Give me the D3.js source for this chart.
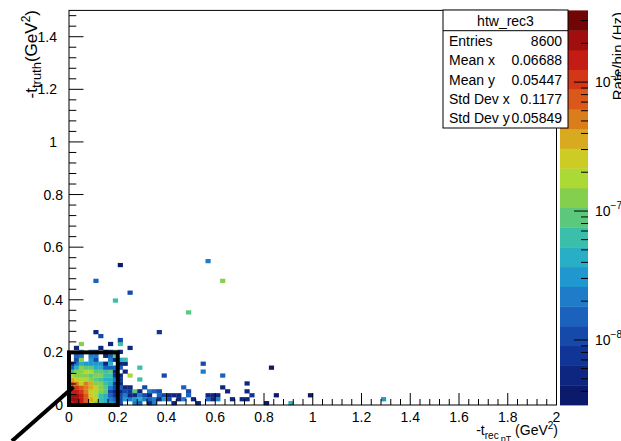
<!DOCTYPE html>
<html>
<head>
<meta charset="utf-8">
<script src="https://cdn.jsdelivr.net/npm/d3@7"></script>
<style>
  body { margin: 0; background: #fff; overflow: hidden; }
  svg { display: block; font-family: "Liberation Sans", Arial, sans-serif; }
</style>
</head>
<body>
<script>
// bin contents in nHz (1e-9 Hz); x bins are 0.02 GeV^2 wide, y bins 0.015 GeV^2
// core region: row = y bin index (from 0), column = x bin index (from 0), 0 = empty
var coreRates = [
  [1450, 2100, 1450, 720, 250, 120, 61, 43, 30, 21, 10.5, 0, 0],
  [2100, 2100, 1450, 720, 350, 250, 61, 43, 21, 15, 10.5, 30, 21],
  [2100, 2100, 1450, 720, 250, 175, 61, 43, 15, 7.3, 10.5, 21, 5.1],
  [1450, 1450, 1000, 500, 250, 175, 120, 87, 10.5, 5.1, 5.1, 10.5, 7.3],
  [1000, 1000, 720, 500, 350, 250, 120, 87, 21, 10.5, 15, 5.1, 5.1],
  [720, 500, 250, 500, 350, 120, 120, 61, 43, 7.3, 5.1, 0, 0],
  [350, 250, 175, 175, 120, 87, 61, 43, 43, 21, 7.3, 0, 0],
  [175, 120, 120, 120, 87, 120, 120, 61, 61, 7.3, 5.1, 0, 175],
  [61, 120, 120, 175, 175, 87, 87, 61, 87, 5.1, 0, 5.1, 0],
  [15, 43, 120, 87, 87, 43, 43, 15, 15, 15, 15, 0, 0],
  [5.1, 21, 43, 30, 30, 30, 30, 5.1, 43, 0, 5.1, 5.1, 0],
  [0, 10.5, 120, 0, 30, 10.5, 0, 0, 21, 5.1, 43, 61, 0],
  [0, 15, 21, 0, 21, 21, 0, 5.1, 15, 87, 0, 0, 0],
  [0, 0, 30, 0, 21, 21, 0, 5.1, 15, 87, 5.1, 0, 0],
  [0, 5.1, 0, 0, 0, 0, 5.1, 0, 0, 0, 0, 0, 5.1],
  [0, 0, 120, 0, 0, 0, 0, 0, 5.1, 0, 61, 0, 0],
  [0, 0, 0, 0, 0, 0, 0, 0, 0, 0, 10.5, 0, 0]
];

// scattered bins outside the core: [x bin, y bin, rate nHz]
var outlierBins = [
  [15, 4, 10.5], [23, 4, 15], [31, 4, 5.1],
  [13, 3, 87], [14, 3, 5.1], [16, 3, 21], [17, 3, 15], [18, 3, 10.5], [24, 3, 10.5], [32, 3, 5.1], [36, 3, 5.1],
  [13, 2, 5.1], [14, 2, 21], [15, 2, 10.5], [16, 2, 5.1], [18, 2, 15], [19, 2, 10.5], [20, 2, 5.1],
  [21, 2, 5.1], [22, 2, 5.1], [24, 2, 15], [28, 2, 5.1], [29, 2, 5.1], [30, 2, 5.1], [37, 2, 7.3],
  [42, 2, 3.6], [49, 2, 3.6],
  [13, 1, 30], [14, 1, 43], [15, 1, 21], [16, 1, 15], [17, 1, 21], [18, 1, 5.1], [19, 1, 30], [20, 1, 10.5],
  [22, 1, 5.1], [23, 1, 21], [25, 1, 5.1], [28, 1, 15], [29, 1, 5.1], [30, 1, 21], [33, 1, 5.1],
  [35, 1, 5.1], [36, 1, 5.1], [64, 1, 30],
  [13, 0, 21], [14, 0, 15], [16, 0, 5.1], [17, 0, 21], [21, 0, 5.1], [26, 0, 5.1], [40, 0, 3.6], [45, 0, 43],
  [36, 5, 5.1], [19, 7, 10.5], [31, 7, 15], [27, 8, 21], [14, 6, 61], [41, 9, 3.6], [14, 9, 61], [27, 10, 10.5],
  [10, 35, 3.6], [28, 36, 21], [5, 31, 15], [31, 31, 120], [12, 28, 10.5], [9, 26, 61], [24, 23, 87],
  [5, 18, 5.1], [6, 17, 10.5], [18, 18, 7.3]
];

var xTickValues = [0, 0.2, 0.4, 0.6, 0.8, 1, 1.2, 1.4, 1.6, 1.8, 2];
var yTickValues = [0, 0.2, 0.4, 0.6, 0.8, 1, 1.2, 1.4];
var zDecades = [1e-8, 1e-7, 1e-6];
var statsRows = [
  ['Entries', '8600'],
  ['Mean x', '0.06688'],
  ['Mean y', '0.05447'],
  ['Std Dev x', '0.1177'],
  ['Std Dev y', '0.05849']
];
var histName = 'htw_rec3';

// 20 contour colours, low to high
var palette = [
  '#0c1a6c', '#0e2680', '#113596', '#1549aa', '#1a62bc', '#1e7cc8', '#2098cf', '#28afc6', '#3bbfaa', '#5cc87c',
  '#84d04e', '#abd935', '#cccc24', '#d8aa20', '#da7e1c', '#da581a', '#d43618', '#c41c14', '#a00e0e', '#700606'
];

var width = 621, height = 441;
var frame = {left: 69, right: 556.5, top: 10.4, bottom: 405};
var binW = 0.02, binH = 0.015;
var zMin = 3.13e-9, zMax = 3.6e-6;

// flatten into one list of bins
var bins = [];
coreRates.forEach(function(row, iy) {
  row.forEach(function(r, ix) {
    if (r > 0) bins.push({ix: ix, iy: iy, rate: r * 1e-9});
  });
});
outlierBins.forEach(function(d) {
  bins.push({ix: d[0], iy: d[1], rate: d[2] * 1e-9});
});

var svg = d3.select('body').append('svg')
  .attr('width', width)
  .attr('height', height);

var xScale = d3.scaleLinear().domain([0, 2]).range([frame.left, frame.right]);
var yScale = d3.scaleLinear().domain([0, 1.5]).range([frame.bottom, frame.top]);
var colour = d3.scaleQuantize()
  .domain([Math.log10(zMin), Math.log10(zMax)])
  .range(palette);

// histogram cells
svg.append('g')
  .selectAll('rect')
  .data(bins)
  .enter()
  .append('rect')
  .attr('x', function(d) { return xScale(d.ix * binW); })
  .attr('y', function(d) { return yScale((d.iy + 1) * binH); })
  .attr('width', xScale(binW) - xScale(0) + 0.3)
  .attr('height', yScale(0) - yScale(binH) + 0.3)
  .attr('fill', function(d) { return colour(Math.log10(d.rate)); });

// frame
svg.append('rect')
  .attr('x', frame.left)
  .attr('y', frame.top)
  .attr('width', frame.right - frame.left)
  .attr('height', frame.bottom - frame.top)
  .attr('fill', 'none')
  .attr('stroke', '#000')
  .attr('stroke-width', 1);

// x axis ticks (inside, ROOT style)
var xTicks = svg.append('g').attr('stroke', '#000').attr('stroke-width', 1);
d3.range(0, 50.5).forEach(function(i) {
  var v = i * 0.04;
  var major = i % 5 === 0;
  xTicks.append('line')
    .attr('x1', xScale(v)).attr('x2', xScale(v))
    .attr('y1', frame.bottom).attr('y2', frame.bottom - (major ? 12 : 6));
});
svg.append('g')
  .selectAll('text')
  .data(xTickValues)
  .enter()
  .append('text')
  .attr('x', function(d) { return xScale(d); })
  .attr('y', 422)
  .attr('text-anchor', 'middle')
  .attr('font-size', 14)
  .text(function(d) { return d; });

// y axis ticks
var yTicks = svg.append('g').attr('stroke', '#000').attr('stroke-width', 1);
d3.range(0, 37.5).forEach(function(i) {
  var v = i * 0.04;
  var major = i % 5 === 0;
  yTicks.append('line')
    .attr('x1', frame.left).attr('x2', frame.left + (major ? 14.5 : 7.3))
    .attr('y1', yScale(v)).attr('y2', yScale(v));
});
svg.append('g')
  .selectAll('text')
  .data(yTickValues)
  .enter()
  .append('text')
  .attr('x', function(d) { return d < 1 ? 63 : 57; })
  .attr('y', function(d) { return yScale(d) + 5; })
  .attr('text-anchor', 'end')
  .attr('font-size', 14)
  .text(function(d) { return d; });

// axis titles
var xTitle = svg.append('text')
  .attr('x', 558).attr('y', 435)
  .attr('text-anchor', 'end')
  .attr('font-size', 14);
xTitle.append('tspan').text('-t');
xTitle.append('tspan').attr('font-size', 10).attr('dy', 4).text('rec');
xTitle.append('tspan').attr('font-size', 9).attr('dy', 3).attr('dx', 2).text('pT');
xTitle.append('tspan').attr('dy', -7).text(' (GeV');
xTitle.append('tspan').attr('font-size', 10).attr('dy', -6).text('2');
xTitle.append('tspan').attr('dy', 6).text(')');

var yTitle = svg.append('text')
  .attr('transform', 'translate(37,10) rotate(-90)')
  .attr('text-anchor', 'end')
  .attr('font-size', 17);
yTitle.append('tspan').text('-t');
yTitle.append('tspan').attr('font-size', 13).attr('dy', 4).text('truth');
yTitle.append('tspan').attr('dy', -4).text('(GeV');
yTitle.append('tspan').attr('font-size', 12).attr('dy', -7).text('2');
yTitle.append('tspan').attr('dy', 7).text(')');

// colour bar
var bar = {left: 560, right: 588};
var zScale = d3.scaleLog().domain([zMin, zMax]).range([frame.bottom, frame.top]);
var edges = [Math.log10(zMin)].concat(colour.thresholds(), [Math.log10(zMax)]);
svg.append('g')
  .selectAll('rect')
  .data(palette)
  .enter()
  .append('rect')
  .attr('x', bar.left)
  .attr('width', bar.right - bar.left)
  .attr('y', function(d, i) { return zScale(Math.pow(10, edges[i + 1])); })
  .attr('height', function(d, i) {
    return zScale(Math.pow(10, edges[i])) - zScale(Math.pow(10, edges[i + 1])) + 0.4;
  })
  .attr('fill', function(d) { return d; });

var zTicks = svg.append('g').attr('stroke', '#000').attr('stroke-width', 1);
zScale.ticks().forEach(function(v) {
  var major = zDecades.some(function(d) { return Math.abs(d - v) / d < 1e-6; });
  zTicks.append('line')
    .attr('x1', bar.right).attr('x2', bar.right - (major ? 14 : 7))
    .attr('y1', zScale(v)).attr('y2', zScale(v));
});
var zLabels = svg.append('g')
  .selectAll('text')
  .data(zDecades)
  .enter()
  .append('text')
  .attr('x', 595)
  .attr('y', function(d) { return zScale(d) + 5; })
  .attr('font-size', 14);
zLabels.append('tspan').text('10');
zLabels.append('tspan')
  .attr('font-size', 10)
  .attr('dy', -7)
  .text(function(d) { return '\u2212' + Math.round(-Math.log10(d)); });

svg.append('text')
  .attr('transform', 'translate(623,12) rotate(-90)')
  .attr('text-anchor', 'end')
  .attr('font-size', 15)
  .text('Rate/bin (Hz)');

// stats box
var stats = {x: 443, y: 10, w: 125, h: 118};
svg.append('rect')
  .attr('x', stats.x).attr('y', stats.y)
  .attr('width', stats.w).attr('height', stats.h)
  .attr('fill', '#fff').attr('stroke', '#000').attr('stroke-width', 1);
svg.append('line')
  .attr('x1', stats.x).attr('x2', stats.x + stats.w)
  .attr('y1', 30.7).attr('y2', 30.7)
  .attr('stroke', '#000');
svg.append('text')
  .attr('x', stats.x + stats.w / 2).attr('y', 26)
  .attr('text-anchor', 'middle')
  .attr('font-size', 14)
  .text(histName);
var rows = svg.append('g')
  .selectAll('g')
  .data(statsRows)
  .enter()
  .append('g')
  .attr('transform', function(d, i) { return 'translate(0,' + (46 + i * 19.3) + ')'; });
rows.append('text')
  .attr('x', stats.x + 6)
  .attr('font-size', 14)
  .text(function(d) { return d[0]; });
rows.append('text')
  .attr('x', stats.x + stats.w - 6)
  .attr('text-anchor', 'end')
  .attr('font-size', 14)
  .text(function(d) { return d[1]; });

// highlight box around the core and pointer line
svg.append('rect')
  .attr('x', xScale(0))
  .attr('y', yScale(0.2))
  .attr('width', xScale(0.2) - xScale(0))
  .attr('height', yScale(0) - yScale(0.2))
  .attr('fill', 'none')
  .attr('stroke', '#000')
  .attr('stroke-width', 4);
svg.append('line')
  .attr('x1', xScale(-0.234)).attr('y1', yScale(-0.137))
  .attr('x2', xScale(0.018)).attr('y2', yScale(0.068))
  .attr('stroke', '#000')
  .attr('stroke-width', 4);
</script>
</body>
</html>
